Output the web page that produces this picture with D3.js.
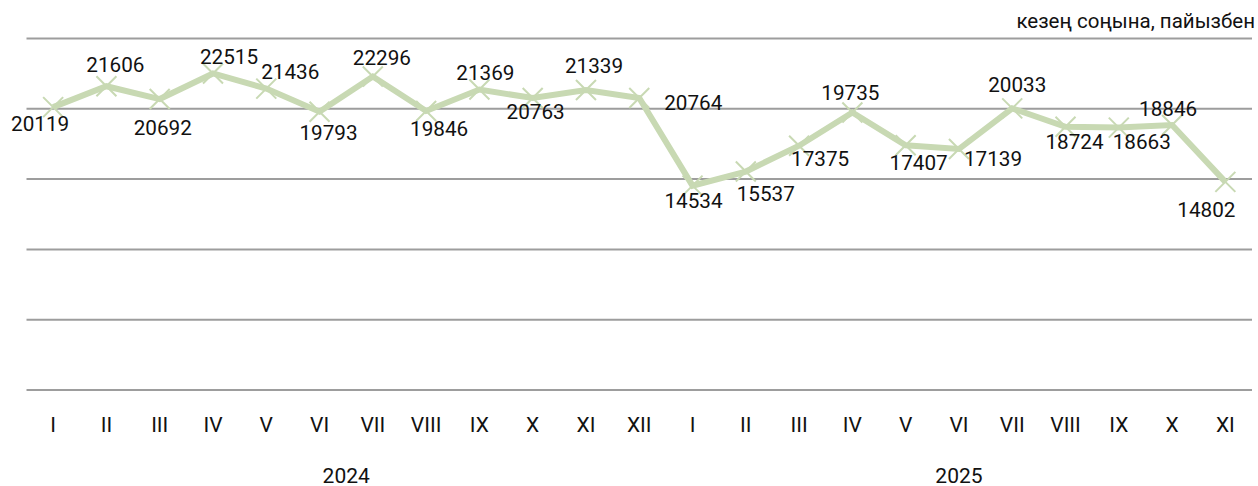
<!DOCTYPE html>
<html>
<head>
<meta charset="utf-8">
<script src="https://cdn.jsdelivr.net/npm/d3@7"></script>
<style>
  html, body { margin: 0; padding: 0; background: #fff; }
  svg { display: block; font-family: Roboto, "Noto Sans", sans-serif; }
</style>
</head>
<body>
<svg id="chart" width="1258" height="486"></svg>
<script>
// ---- data ----
const months = ["I","II","III","IV","V","VI","VII","VIII","IX","X","XI","XII",
                "I","II","III","IV","V","VI","VII","VIII","IX","X","XI"];
const years = ["2024", "2025"];
const yearOf = [0,0,0,0,0,0,0,0,0,0,0,0, 1,1,1,1,1,1,1,1,1,1,1];
const values = [20119, 21606, 20692, 22515, 21436, 19793, 22296, 19846, 21369, 20763, 21339, 20764,
                14534, 15537, 17375, 19735, 17407, 17139, 20033, 18724, 18663, 18846, 14802];
const yTicks = [0, 5000, 10000, 15000, 20000, 25000];
const unitText = "кезең соңына, пайызбен";
// label placement offsets (dx, dy) relative to each point
const labelDx = [-13, 9, 3, 16, 24, 9, 9, 13, 6, 3, 8, 54, 1, 20, 21, -2, 13, 34, 5, 9, 23, -4, -19];
const labelDy = [16, -22, 28, -17, -17, 21, -19, 18, -17, 13, -24, 4, 15, 22, 13, -20, 17, 10, -24, 15, 14, -16, 28];

// ---- layout ----
const svg = d3.select("#chart");
const plotLeft = 26.5, plotRight = 1252, plotTop = 38.5, plotBottom = 390;
const lineColor = "#c8d9b3";

const x = d3.scaleBand().domain(d3.range(values.length)).range([plotLeft, plotRight]).padding(0);
const y = d3.scaleLinear().domain([0, 25000]).range([plotBottom, plotTop]);
const cx = i => x(i) + x.bandwidth() / 2;

// gridlines
svg.append("g").selectAll("line").data(yTicks).join("line")
  .attr("x1", plotLeft).attr("x2", plotRight)
  .attr("y1", d => y(d)).attr("y2", d => y(d))
  .attr("stroke", "#9d9d9d").attr("stroke-width", 2);

// unit text
svg.append("text").attr("x", 1255).attr("y", 28)
  .attr("text-anchor", "end").attr("font-size", 20.5).attr("fill", "#111")
  .text(unitText);

// line
const line = d3.line().x((d, i) => cx(i)).y(d => y(d));
svg.append("path").datum(values)
  .attr("d", line).attr("fill", "none")
  .attr("stroke", lineColor).attr("stroke-width", 6)
  .attr("stroke-linejoin", "miter");

// x markers
const m = 10;
const mk = svg.append("g").selectAll("g").data(values).join("g")
  .attr("transform", (d, i) => `translate(${cx(i)},${y(d)})`);
mk.append("path").attr("d", `M${-m},${-m}L${m},${m}M${-m},${m}L${m},${-m}`)
  .attr("stroke", lineColor).attr("stroke-width", 2).attr("fill", "none");

// value labels
svg.append("g").selectAll("text").data(values).join("text")
  .attr("x", (d, i) => cx(i) + labelDx[i])
  .attr("y", (d, i) => y(d) + labelDy[i])
  .attr("dy", "0.36em")
  .attr("text-anchor", "middle").attr("font-size", 20.7).attr("fill", "#111")
  .text(d => d);

// month axis
const xAxis = d3.axisBottom(x).tickSize(0).tickFormat(i => months[i]);
const ax = svg.append("g").attr("transform", `translate(0,${plotBottom})`).call(xAxis);
ax.select(".domain").remove();
ax.selectAll("text").attr("font-size", 21).attr("fill", "#111")
  .attr("font-family", "Roboto, sans-serif").attr("y", 42).attr("dy", "0");

// year labels
svg.append("g").selectAll("text").data(years).join("text")
  .attr("x", (d, k) => {
    const idx = d3.range(values.length).filter(i => yearOf[i] === k);
    return (cx(idx[0]) + cx(idx[idx.length - 1])) / 2;
  })
  .attr("y", 483)
  .attr("text-anchor", "middle").attr("font-size", 21).attr("fill", "#111")
  .text(d => d);
</script>
</body>
</html>
